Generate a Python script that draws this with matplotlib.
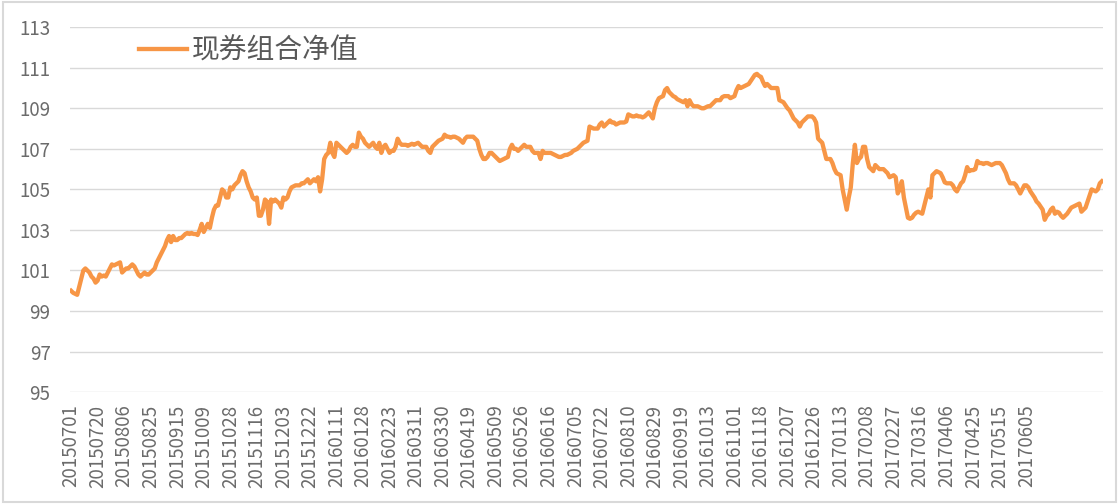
import matplotlib
matplotlib.use("Agg")
import matplotlib.pyplot as plt
from matplotlib.patches import Rectangle

plt.rcParams['font.family'] = ['Noto Sans CJK SC', 'DejaVu Sans']
plt.rcParams['font.weight'] = 'light'

# tick labels (every 13 trading days)
tick_labels = ["20150701", "20150720", "20150806", "20150825", "20150915", "20151009",
               "20151028", "20151116", "20151203", "20151222", "20160111", "20160128",
               "20160223", "20160311", "20160330", "20160419", "20160509", "20160526",
               "20160616", "20160705", "20160722", "20160810", "20160829", "20160919",
               "20161013", "20161101", "20161118", "20161207", "20161226", "20170113",
               "20170208", "20170227", "20170316", "20170406", "20170425", "20170515",
               "20170605"]

series_name = "现券组合净值"

# net value, one per trading day
nav = [
    100.0, 99.9, 99.85, 99.8, 100.2, 100.6, 101.0, 101.1, 101.0, 100.9, 100.7, 100.6, 100.4,
    100.5, 100.8, 100.7, 100.75, 100.7, 100.9, 101.1, 101.3, 101.25, 101.3, 101.35, 101.4, 100.9,
    101.0, 101.1, 101.1, 101.2, 101.3, 101.2, 101.0, 100.8, 100.7, 100.8, 100.9, 100.8, 100.8,
    100.9, 101.0, 101.1, 101.4, 101.6, 101.8, 102.0, 102.2, 102.5, 102.7, 102.4, 102.7, 102.5,
    102.5, 102.6, 102.6, 102.7, 102.8, 102.85, 102.8, 102.85, 102.8, 102.8, 102.75, 103.0, 103.3,
    102.9, 103.1, 103.3, 103.1, 103.6, 104.0, 104.2, 104.2, 104.6, 105.0, 104.9, 104.6, 104.6,
    105.1, 105.0, 105.2, 105.3, 105.4, 105.7, 105.9, 105.8, 105.4, 105.1, 104.9, 104.6, 104.5,
    104.6, 103.7, 103.7, 104.0, 104.5, 104.4, 103.3, 104.5, 104.4, 104.5, 104.4, 104.3, 104.1,
    104.6, 104.5, 104.6, 104.9, 105.1, 105.15, 105.2, 105.2, 105.2, 105.3, 105.3, 105.4, 105.5,
    105.3, 105.4, 105.5, 105.4, 105.6, 104.9, 105.5, 106.5, 106.7, 106.8, 107.3, 106.8, 106.6,
    107.3, 107.2, 107.1, 107.0, 106.9, 106.8, 106.9, 107.1, 107.2, 107.1, 107.1, 107.8, 107.6,
    107.5, 107.3, 107.2, 107.1, 107.2, 107.3, 107.1, 107.0, 107.3, 106.8, 107.1, 107.2, 107.0,
    106.8, 106.9, 106.9, 107.1, 107.5, 107.3, 107.2, 107.2, 107.2, 107.15, 107.2, 107.25, 107.2,
    107.25, 107.3, 107.2, 107.1, 107.1, 107.1, 106.9, 106.8, 107.1, 107.2, 107.3, 107.4, 107.45,
    107.5, 107.7, 107.6, 107.6, 107.55, 107.6, 107.6, 107.55, 107.5, 107.4, 107.3, 107.5, 107.6,
    107.6, 107.6, 107.6, 107.5, 107.4, 107.0, 106.7, 106.5, 106.5, 106.6, 106.8, 106.8, 106.7,
    106.6, 106.5, 106.4, 106.45, 106.5, 106.55, 106.6, 107.0, 107.2, 107.0, 107.0, 106.9, 107.0,
    107.1, 107.2, 107.1, 107.1, 107.1, 106.9, 106.8, 106.8, 106.8, 106.5, 106.9, 106.8, 106.8,
    106.8, 106.8, 106.75, 106.7, 106.65, 106.6, 106.6, 106.65, 106.7, 106.7, 106.75, 106.8, 106.9,
    106.95, 107.0, 107.1, 107.2, 107.3, 107.35, 107.4, 108.1, 108.05, 108.0, 108.0, 108.0, 108.2,
    108.3, 108.1, 108.2, 108.3, 108.4, 108.3, 108.3, 108.2, 108.25, 108.3, 108.3, 108.3, 108.35,
    108.7, 108.65, 108.6, 108.6, 108.65, 108.6, 108.6, 108.55, 108.6, 108.7, 108.8, 108.65, 108.5,
    109.0, 109.3, 109.5, 109.55, 109.6, 109.9, 110.0, 109.8, 109.7, 109.6, 109.55, 109.45, 109.4,
    109.35, 109.3, 109.4, 109.1, 109.4, 109.2, 109.1, 109.1, 109.1, 109.05, 109.0, 109.0, 109.05,
    109.1, 109.1, 109.2, 109.3, 109.4, 109.4, 109.4, 109.55, 109.6, 109.6, 109.6, 109.5, 109.55,
    109.6, 109.9, 110.1, 110.0, 110.05, 110.1, 110.15, 110.2, 110.35, 110.5, 110.65, 110.7, 110.6,
    110.55, 110.3, 110.1, 110.2, 110.1, 110.0, 110.0, 110.0, 110.0, 109.4, 109.35, 109.3, 109.15,
    109.0, 108.9, 108.7, 108.5, 108.4, 108.3, 108.1, 108.3, 108.4, 108.5, 108.6, 108.6, 108.6,
    108.5, 108.3, 107.5, 107.4, 107.3, 106.9, 106.5, 106.5, 106.5, 106.3, 106.0, 105.8, 105.75,
    105.7, 105.0, 104.5, 104.0, 104.6, 105.1, 106.3, 107.2, 106.3, 106.5, 106.6, 107.1, 107.1,
    106.5, 106.1, 106.0, 105.9, 106.2, 106.1, 106.0, 106.0, 106.0, 105.9, 105.8, 105.6, 105.65,
    105.7, 105.6, 104.8, 105.0, 105.4, 104.6, 104.1, 103.6, 103.55, 103.6, 103.75, 103.85, 103.9,
    103.85, 103.8, 104.2, 104.6, 105.0, 104.6, 105.7, 105.8, 105.9, 105.85, 105.8, 105.6, 105.35,
    105.3, 105.3, 105.3, 105.2, 105.0, 104.9, 105.1, 105.3, 105.4, 105.7, 106.1, 105.9, 105.95,
    105.95, 106.0, 106.4, 106.3, 106.3, 106.25, 106.3, 106.3, 106.25, 106.2, 106.25, 106.3, 106.3,
    106.3, 106.2, 106.0, 105.8, 105.5, 105.3, 105.3, 105.3, 105.2, 105.0, 104.8, 105.0, 105.2,
    105.2, 105.1, 104.9, 104.75, 104.6, 104.4, 104.3, 104.15, 104.0, 103.5, 103.7, 103.8, 104.0,
    104.1, 103.8, 103.9, 103.85, 103.7, 103.6, 103.7, 103.8, 103.95, 104.1, 104.15, 104.2, 104.25,
    104.3, 103.9, 104.0, 104.1, 104.4, 104.7, 105.0, 104.95, 104.9, 105.0, 105.3, 105.4,
]

y_ticks = [95, 97, 99, 101, 103, 105, 107, 109, 111, 113]

fig = plt.figure(figsize=(11.19, 5.04), dpi=100)
ax = fig.add_axes([0.0626, 0.222, 0.923, 0.724])

ax.plot(range(len(nav)), nav, color='#F79646', lw=3.1, label=series_name,
        solid_joinstyle='round')

ax.set_ylim(95, 113)
ax.set_yticks(y_ticks)
ax.set_xlim(-0.5, len(nav) - 0.5)
ax.set_xticks(range(0, 13 * len(tick_labels), 13))
ax.set_xticklabels(tick_labels, rotation=90)

ax.grid(axis='y', color='#d9d9d9', lw=1)
ax.set_axisbelow(True)
for s in ax.spines.values():
    s.set_visible(False)
ax.tick_params(axis='both', length=0, colors='#6b6b6b', labelsize=13.5)
ax.tick_params(axis='y', pad=14)
ax.tick_params(axis='x', pad=9)

ax.legend(loc='upper left', bbox_to_anchor=(0.043, 1.045), frameon=False,
          fontsize=20, labelcolor='#595959', handlelength=1.7, handletextpad=0.2)

# light chart border
fig.patches.append(Rectangle((0.003, 0.004), 0.994, 0.992, transform=fig.transFigure,
                             fill=False, edgecolor='#d9d9d9', lw=1.5))

fig.savefig('out.png', dpi=100)
